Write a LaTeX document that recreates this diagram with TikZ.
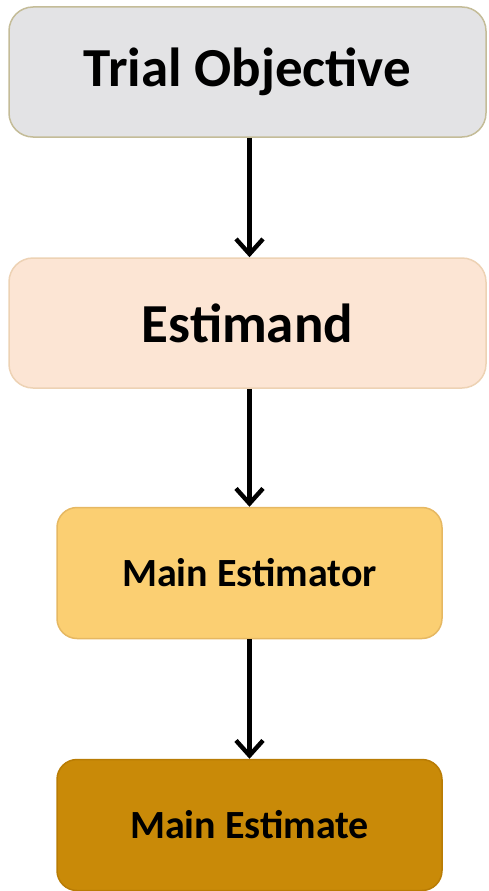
\documentclass[tikz,border=0pt]{standalone}
\usepackage{fontspec}
\setmainfont{Carlito}
\usepackage{tikz}
\usetikzlibrary{arrows.meta,positioning}

\definecolor{objfill}{HTML}{E3E3E5}
\definecolor{objline}{HTML}{C4BC98}
\definecolor{estfill}{HTML}{FCE5D4}
\definecolor{estline}{HTML}{EDD2B4}
\definecolor{torfill}{HTML}{FBCF72}
\definecolor{torline}{HTML}{E6B862}
\definecolor{matefill}{HTML}{C98A08}
\definecolor{mateline}{HTML}{B97C04}

\begin{document}
\begin{tikzpicture}[
  x=1pt,y=-1pt,
  widebox/.style={draw, rounded corners=24pt, line width=1.5pt, align=center, minimum width=477pt, minimum height=130pt, font=\bfseries\fontsize{55}{64}\selectfont, inner sep=0pt},
  narrowbox/.style={draw, rounded corners=20pt, line width=1.5pt, align=center, minimum width=385pt, minimum height=131pt, font=\bfseries\fontsize{40}{48}\selectfont, inner sep=0pt},
  arr/.style={-{Straight Barb[length=15pt,width=27pt,line width=4.4pt]}, line width=4.4pt}
]
\useasboundingbox (0,0) rectangle (488,891);
\node[widebox, fill=objfill, draw=objline] (objective) at (247.5,72) {Trial Objective};
\node[widebox, fill=estfill, draw=estline] (estimand) at (247.5,323) {Estimand};
\node[narrowbox, fill=torfill, draw=torline] (estimator) at (249.5,573) {Main Estimator};
\node[narrowbox, fill=matefill, draw=mateline] (estimate) at (249.5,825) {Main Estimate};
\foreach \a/\b in {objective/estimand,estimand/estimator,estimator/estimate}{\draw[arr] (\a.south -| estimate) -- (\b.north -| estimate);}
\end{tikzpicture}
\end{document}
